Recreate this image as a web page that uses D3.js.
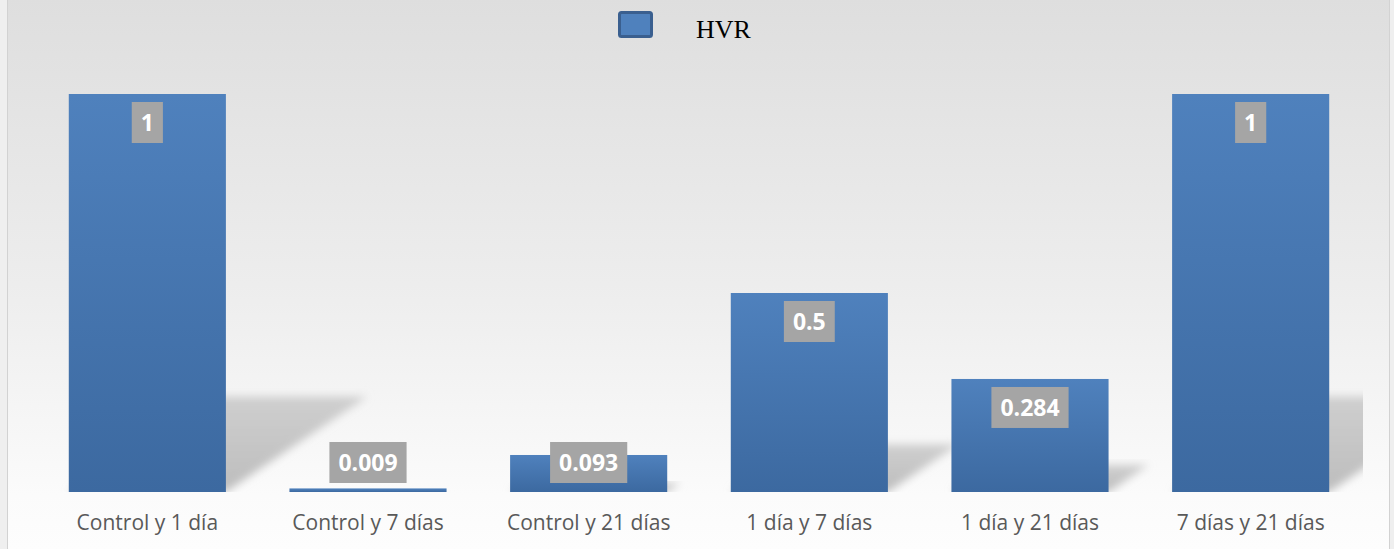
<!DOCTYPE html>
<html>
<head>
<meta charset="utf-8">
<script src="https://cdn.jsdelivr.net/npm/d3@7"></script>
<style>
  body { margin: 0; background: #ffffff; }
  svg { display: block; }
</style>
</head>
<body>
<div id="chart"></div>
<script>
// chart data
const categories = ["Control y 1 día", "Control y 7 días", "Control y 21 días", "1 día y 7 días", "1 día y 21 días", "7 días y 21 días"];
const hvrValues = [1, 0.009, 0.093, 0.5, 0.284, 1];
const valueLabels = ["1", "0.009", "0.093", "0.5", "0.284", "1"];
const seriesName = "HVR";

const width = 1394, height = 549;
const baseY = 492, topY = 94;

var svg = d3.select("#chart")
  .append("svg")
  .attr("width", width)
  .attr("height", height);

var defs = svg.append("defs");

// background gradient
var bg = defs.append("linearGradient")
  .attr("id", "bgGrad")
  .attr("x1", 0).attr("y1", 0).attr("x2", 0).attr("y2", 1);
bg.append("stop").attr("offset", "0%").attr("stop-color", "#dedede");
bg.append("stop").attr("offset", "55%").attr("stop-color", "#eeeeee");
bg.append("stop").attr("offset", "90%").attr("stop-color", "#fbfbfb");
bg.append("stop").attr("offset", "100%").attr("stop-color", "#fdfdfd");

// bar gradient
var bg2 = defs.append("linearGradient")
  .attr("id", "barGrad")
  .attr("x1", 0).attr("y1", 0).attr("x2", 0).attr("y2", 1);
bg2.append("stop").attr("offset", "0%").attr("stop-color", "#4f81bd");
bg2.append("stop").attr("offset", "100%").attr("stop-color", "#3c69a0");

// shadow fades a bit towards its top
var sg = defs.append("linearGradient")
  .attr("id", "shadowGrad")
  .attr("x1", 0).attr("y1", 0).attr("x2", 0).attr("y2", 1);
sg.append("stop").attr("offset", "0%").attr("stop-color", "#cfcfcf");
sg.append("stop").attr("offset", "100%").attr("stop-color", "#bdbdbd");

defs.append("filter")
  .attr("id", "blur")
  .attr("x", "-20%").attr("y", "-20%").attr("width", "140%").attr("height", "140%")
  .append("feGaussianBlur")
  .attr("stdDeviation", 4);

defs.append("clipPath")
  .attr("id", "plotClip")
  .append("rect")
  .attr("x", 8).attr("y", 0).attr("width", 1355).attr("height", baseY);

svg.append("rect")
  .attr("x", 0).attr("y", 0)
  .attr("width", width).attr("height", height)
  .attr("fill", "#efefef");

svg.append("rect")
  .attr("x", 7.5).attr("y", -1)
  .attr("width", 1382).attr("height", height + 2)
  .attr("fill", "url(#bgGrad)")
  .attr("stroke", "#d2d2d2")
  .attr("stroke-width", 1);

// scales
var xScale = d3.scaleBand()
  .domain(categories)
  .range([37, 1361])
  .paddingInner(0.288)
  .paddingOuter(0.144);

var yScale = d3.scaleLinear()
  .domain([0, 1])
  .range([baseY, topY]);

var data = categories.map(function(c, i) {
  return { cat: c, value: hvrValues[i], label: valueLabels[i] };
});

// perspective shadows behind the bars
svg.append("g")
  .attr("clip-path", "url(#plotClip)")
  .selectAll("polygon")
  .data(data)
  .enter().append("polygon")
  .attr("points", function(d) {
    var x0 = xScale(d.cat), x1 = x0 + xScale.bandwidth();
    var dy = (baseY - yScale(d.value)) * 0.24;
    var dx = dy * 1.48;
    return [[x0, baseY], [x1, baseY], [x1 + dx, baseY - dy], [x0 + dx, baseY - dy]].join(" ");
  })
  .attr("fill", "url(#shadowGrad)")
  .attr("filter", "url(#blur)");

// bars
svg.append("g")
  .selectAll("rect")
  .data(data)
  .enter().append("rect")
  .attr("x", function(d) { return xScale(d.cat); })
  .attr("y", function(d) { return yScale(d.value); })
  .attr("width", xScale.bandwidth())
  .attr("height", function(d) { return baseY - yScale(d.value); })
  .attr("fill", "url(#barGrad)");

// data labels
var lbl = svg.append("g")
  .selectAll("g")
  .data(data)
  .enter().append("g")
  .attr("transform", function(d) {
    var cx = xScale(d.cat) + xScale.bandwidth() / 2;
    var y = Math.min(yScale(d.value) + 8, baseY - 50);
    return "translate(" + cx + "," + y + ")";
  });

lbl.append("text")
  .attr("x", 0)
  .attr("y", 29)
  .attr("text-anchor", "middle")
  .attr("font-family", "'Open Sans', sans-serif")
  .attr("font-weight", "bold")
  .attr("font-size", "23px")
  .attr("fill", "#ffffff")
  .text(function(d) { return d.label; });

lbl.each(function() {
  var g = d3.select(this);
  var w = g.select("text").node().getComputedTextLength();
  g.insert("rect", "text")
    .attr("x", -w / 2 - 9)
    .attr("y", 0)
    .attr("width", w + 18)
    .attr("height", 41)
    .attr("fill", "#a5a5a5");
});

// category axis
var xAxis = svg.append("g")
  .attr("transform", "translate(0," + baseY + ")")
  .call(d3.axisBottom(xScale).tickSize(0).tickPadding(23));
xAxis.select(".domain").remove();
xAxis.selectAll("text")
  .attr("font-family", "'Open Sans', sans-serif")
  .attr("font-size", "21px")
  .attr("fill", "#595959");

// legend
var legend = svg.append("g");
legend.append("rect")
  .attr("x", 619.5).attr("y", 12.5)
  .attr("width", 32).attr("height", 24)
  .attr("rx", 2)
  .attr("fill", "#4f81bd")
  .attr("stroke", "#3a5f8f")
  .attr("stroke-width", 3);
legend.append("text")
  .attr("x", 696)
  .attr("y", 38)
  .attr("font-family", "'Liberation Serif', 'Times New Roman', serif")
  .attr("font-size", "26px")
  .attr("fill", "#000000")
  .text(seriesName);
</script>
</body>
</html>
